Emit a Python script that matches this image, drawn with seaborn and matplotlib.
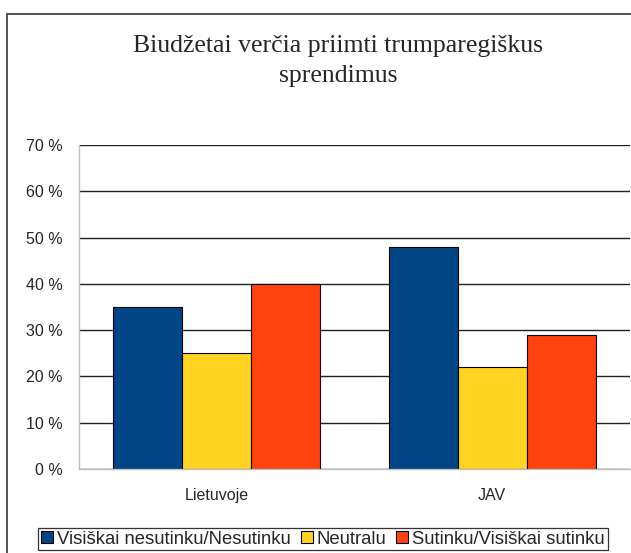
import matplotlib
matplotlib.use("Agg")
import matplotlib.pyplot as plt
from matplotlib.patches import Rectangle
from matplotlib.ticker import FuncFormatter, FixedLocator
import pandas as pd
import seaborn as sns

categories = ["Lietuvoje", "JAV"]
series = ["Visiškai nesutinku/Nesutinku", "Neutralu", "Sutinku/Visiškai sutinku"]
values = {
    "Visiškai nesutinku/Nesutinku": [35, 48],
    "Neutralu": [25, 22],
    "Sutinku/Visiškai sutinku": [40, 29],
}
colors = ["#004586", "#FFD320", "#FF420E"]
title = "Biudžetai verčia priimti trumparegiškus\nsprendimus"

rows = []
for s in series:
    for c, v in zip(categories, values[s]):
        rows.append({"category": c, "series": s, "value": v})
df = pd.DataFrame(rows)

sns.set_style("white")
plt.rcParams["font.family"] = ["Liberation Sans", "DejaVu Sans"]

fig = plt.figure(figsize=(6.31, 5.53), dpi=100)
ax = fig.add_axes([79 / 631, 1 - 469 / 553, 551 / 631, 324 / 553])

sns.barplot(data=df, x="category", y="value", hue="series", order=categories,
            hue_order=series, palette=colors, width=0.75, edgecolor="black",
            linewidth=0.8, saturation=1, ax=ax, legend=True)

ax.set_xlim(-0.5, 1.5)
ax.set_ylim(0, 70)
ax.set_yticks(range(0, 71, 10))
ax.yaxis.set_major_formatter(FuncFormatter(lambda v, p: f"{int(v)} %"))
ax.grid(axis="y", color="#222222", linewidth=1)
ax.set_axisbelow(True)
ax.set_xlabel("")
ax.set_ylabel("")

ax.tick_params(axis="y", which="major", length=5, color="#b0b0b0", labelsize=11.5, pad=7)
ax.tick_params(axis="x", which="major", length=0, labelsize=11.5, pad=14)
ax.xaxis.set_minor_locator(FixedLocator([-0.5, 0.5, 1.5]))
ax.tick_params(axis="x", which="minor", length=5, color="#b0b0b0", direction="out")

for side in ["top", "right"]:
    ax.spines[side].set_visible(False)
for side in ["left", "bottom"]:
    ax.spines[side].set_color("#c0c0c0")
    ax.spines[side].set_linewidth(1)

ax.legend_.remove()
handles = [Rectangle((0, 0), 1, 1, facecolor=c, edgecolor="black", linewidth=0.8) for c in colors]
leg = fig.legend(handles, series, loc="center", bbox_to_anchor=(323 / 631, 1 - 539 / 553),
                 ncol=3, frameon=True, fancybox=False, fontsize=13.3,
                 handlelength=0.65, handleheight=0.65, handletextpad=0.2,
                 columnspacing=0.55, borderpad=0.15, borderaxespad=0)
leg.get_frame().set_edgecolor("black")
leg.get_frame().set_linewidth(0.9)

fig.text(338 / 631, 1 - 61 / 553, title, ha="center", va="center", fontsize=18.5,
         family=["Liberation Serif", "DejaVu Serif"], linespacing=1.5)

frame = Rectangle((7 / 631, -0.2), 1.2, 0.2 + 1 - 14 / 553, transform=fig.transFigure,
                  fill=False, edgecolor="#333333", linewidth=1.2, clip_on=False)
fig.patches.append(frame)

fig.savefig("out.png", dpi=100)
